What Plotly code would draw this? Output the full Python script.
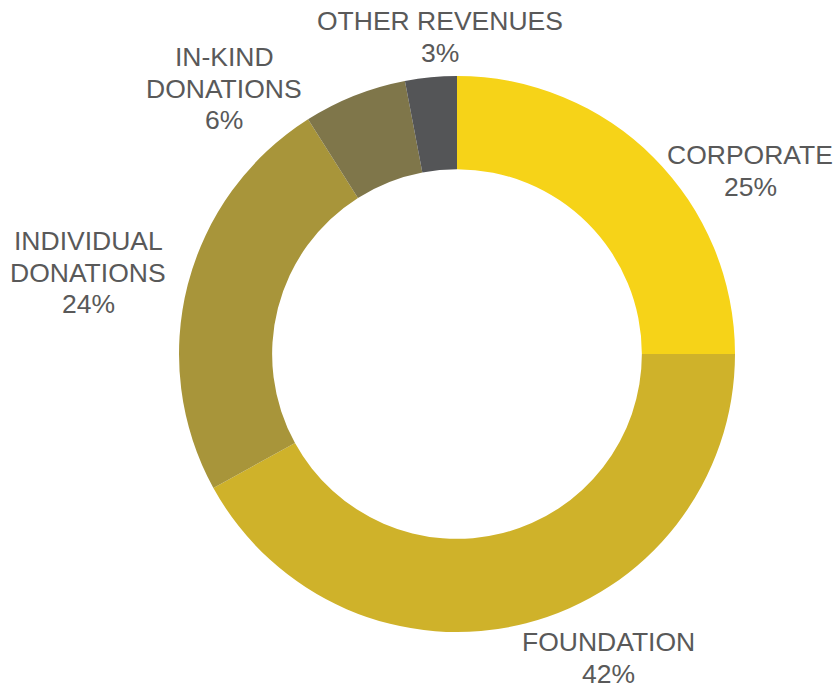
import plotly.graph_objects as go

labels = ["CORPORATE", "FOUNDATION", "INDIVIDUAL DONATIONS", "IN-KIND DONATIONS", "OTHER REVENUES"]
label_lines = [["CORPORATE"], ["FOUNDATION"], ["INDIVIDUAL", "DONATIONS"], ["IN-KIND", "DONATIONS"], ["OTHER REVENUES"]]
values = [25, 42, 24, 6, 3]
colors = ["#F6D318", "#CFB22A", "#A8953A", "#7F764A", "#545557"]

W, H = 838, 685
# centre x and first-line centre y of each label block, in pixels from top-left
label_pos = [(750, 155), (608, 642), (88, 241), (224, 57), (440, 21)]
LINE = 31.7

fig = go.Figure(go.Pie(
    labels=labels,
    values=values,
    marker=dict(colors=colors, line=dict(width=0)),
    hole=0.665,
    sort=False,
    direction="clockwise",
    rotation=0,
    textinfo="none",
    hoverinfo="label+percent",
    showlegend=False,
    domain=dict(x=[179 / W, 735 / W], y=[(H - 632) / H, (H - 76) / H]),
))

for lines, v, (px, py) in zip(label_lines, values, label_pos):
    for i, t in enumerate(lines + [f"{v}%"]):
        fig.add_annotation(
            x=px / W, y=1 - (py + i * LINE) / H, xref="paper", yref="paper",
            text=t, showarrow=False,
            xanchor="center", yanchor="middle", align="center",
            font=dict(family="Liberation Sans, Arial, sans-serif", size=26.5, color="#595959"),
        )

fig.update_layout(
    width=W, height=H,
    margin=dict(l=0, r=0, t=0, b=0),
    paper_bgcolor="white",
    plot_bgcolor="white",
)

fig.write_html(
    "out.html",
    config={"displayModeBar": False},
    post_script="document.body.style.margin='0';document.body.style.overflow='hidden';",
)
